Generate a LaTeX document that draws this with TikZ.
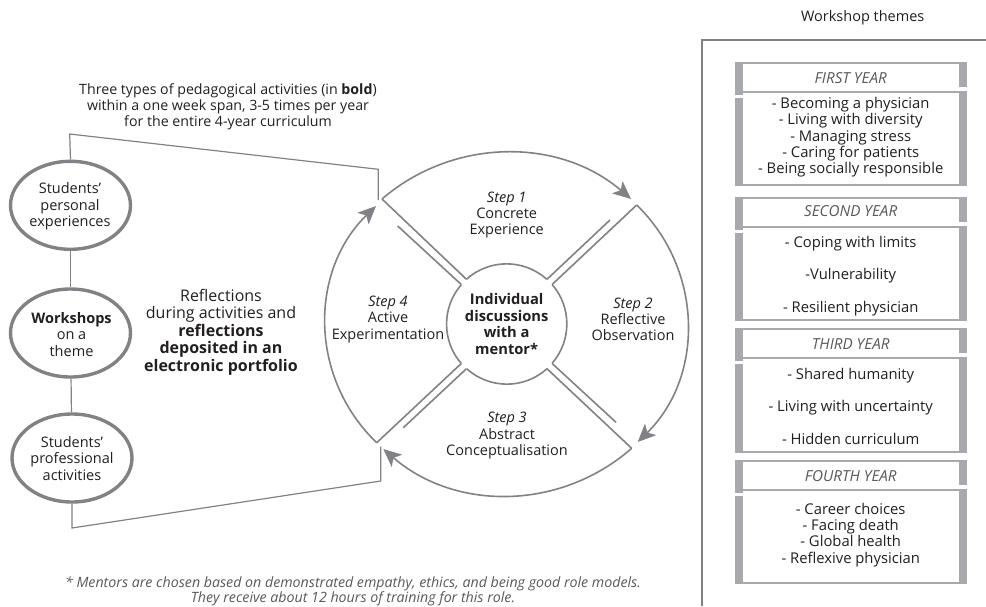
\documentclass[tikz,border=0pt]{standalone}
\usepackage{fontspec}
\setmainfont{Open Sans}
\usetikzlibrary{arrows.meta,shapes.geometric}
\definecolor{ln}{HTML}{808285}
\definecolor{bar}{HTML}{A7A9AC}
\definecolor{ink}{HTML}{231F20}
\definecolor{soft}{HTML}{58595B}
\tikzset{
  x=1pt,y=-1pt,
  txt/.style={text=ink,font=\fontsize{14.5}{16.3}\selectfont,align=center,inner sep=0pt},
  theme/.style={text=ink,font=\fontsize{14.8}{16.3}\selectfont,align=center,inner sep=0pt},
  wide/.style={text=ink,font=\fontsize{14.8}{32.5}\selectfont,align=center,inner sep=0pt},
  top/.style={text=ink,font=\fontsize{14.2}{16}\selectfont,align=center,inner sep=0pt},
  big/.style={text=ink,font=\fontsize{16}{17.6}\selectfont,align=center,inner sep=0pt},
  yrhead/.style={text=soft,font=\fontsize{15.2}{16}\selectfont\itshape,inner sep=0pt},
  foot/.style={text=soft,font=\fontsize{14.2}{13.5}\selectfont\itshape,align=center,inner sep=0pt},
  conn/.style={draw=ln,line width=1.2pt},
  ring/.style={draw=ln,line width=1.6pt},
  flow/.style={draw=ln,line width=1.6pt,-{Stealth[length=18pt,width=16pt,inset=4.5pt]}},
  oval/.style={ellipse,draw=ln,line width=3.4pt,minimum width=120pt,minimum height=88pt,inner sep=0pt},
}
\newcommand{\yearframe}[3]{%
  \fill[bar] (734.7,#1) rectangle (966.7,#3);
  \fill[white] (742.5,#1+2) rectangle (958.5,#2-2);
  \fill[white] (958.5,#2-6) rectangle (966.7,#2-2);
  \fill[white] (742.5,#2) rectangle (958.5,#3-2);
  \fill[white] (734.7,#2+2) rectangle (742.5,#2+5);
}
\begin{document}
\begin{tikzpicture}
\useasboundingbox (0,0) rectangle (986,606);
% left ovals
\node[oval] (e1) at (70.5,205.3) {};
\node[oval] (e2) at (70.5,333) {};
\node[oval] (e3) at (72,458) {};
\node[txt] at (70,206.5) {Students’\\personal\\experiences};
\node[txt] at (71.5,334.5) {\textbf{Workshops}\\on a\\theme};
\node[txt] at (72,458.5) {Students’\\professional\\activities};
\draw[conn] (e1) -- (e2);
\draw[conn] (e2) -- (e3);
% funnel
\coordinate (ft) at (378.3,200);
\coordinate (fb) at (380.7,446.7);
\draw[conn] (e1.north) -- (69.7,134) -- (378.3,169.3) -- (ft);
\draw[conn] (e3.south) -- (72,528) -- (380.7,481) -- (fb);
% centre
\node[circle,minimum size=120pt,inner sep=0pt,text=ink,align=center,font=\fontsize{14.7}{16.5}\selectfont\bfseries] (m) at (506.7,324) {Individual\\discussions\\with a\\mentor*};
\draw[ring] (m.132) arc[start angle=132,end angle=48,radius=60pt];
\draw[ring] (m.41) arc[start angle=41,end angle=-41,radius=60pt];
\draw[ring] (m.-48) arc[start angle=-48,end angle=-132,radius=60pt];
\draw[ring] (m.-139) arc[start angle=-139,end angle=-221,radius=60pt];
% quadrant corners
\coordinate (tl) at (382,199);
\coordinate (tr) at (636.7,205);
\coordinate (br) at (631.7,448.3);
\coordinate (bl) at (376.7,442.7);
\draw[ring] (tl) -- (m.132);
\draw[ring] (397.7,226) -- (m.139);
\draw[ring] (tr) -- (m.41);
\draw[ring] (610,220) -- (m.48);
\draw[ring] (br) -- (m.-48);
\draw[ring] (616,422.3) -- (m.-41);
\draw[ring] (bl) -- (m.-139);
\draw[ring] (403.3,427.7) -- (m.-132);
% arcs
\coordinate (ta) at (631,199);
\coordinate (ra) at (637.7,442);
\coordinate (ba) at (383.3,449);
\coordinate (la) at (376,206);
\draw[flow] (tl) .. controls (453.6,137.4) and (559.4,137.4) .. (ta);
\draw[flow] (tr) .. controls (703.7,270) and (704.2,377) .. (ra);
\draw[flow] (br) .. controls (560,511) and (455,511) .. (ba);
\draw[flow] (bl) .. controls (309,377.7) and (309,271) .. (la);
% step labels
\node[txt] at (506.7,215) {\textit{Step 1}\\Concrete\\Experience};
\node[txt] at (633,319.3) {\textit{Step 2}\\Reflective\\Observation};
\node[txt] at (507,435.5) {\textit{Step 3}\\Abstract\\Conceptualisation};
\node[txt] at (388,319.3) {\textit{Step 4}\\Active\\Experimentation};
% texts
\node[top] at (228,107) {Three types of pedagogical activities (in \textbf{bold})\\within a one week span, 3-5 times per year\\for the entire 4-year curriculum};
\node[big] at (221,332) {Reflections\\during activities and\\\textbf{reflections}\\\textbf{deposited in an}\\\textbf{electronic portfolio}};
\node[foot] at (353,591.5) {* Mentors are chosen based on demonstrated empathy, ethics, and being good role models.\\They receive about 12 hours of training for this role.};
% panel
\node[txt] at (862.7,18) {Workshop themes};
\coordinate (p1) at (702,606);
\coordinate (p2) at (702,40);
\coordinate (p3) at (986,40);
\draw[conn] (p1) -- (p2) -- (p3);
\yearframe{62.3}{92.7}{186}
\yearframe{197}{228}{321}
\yearframe{328.3}{359}{452.7}
\yearframe{460}{490.7}{584.3}
\node[yrhead] at (850.7,78) {FIRST YEAR};
\node[theme] at (850.7,137.3) {- Becoming a physician\\- Living with diversity\\- Managing stress\\- Caring for patients\\- Being socially responsible};
\node[yrhead] at (850.7,211.5) {SECOND YEAR};
\node[wide] at (850.7,276) {- Coping with limits\\-Vulnerability\\- Resilient physician};
\node[yrhead] at (850.7,344.3) {THIRD YEAR};
\node[wide] at (850.7,406) {- Shared humanity\\- Living with uncertainty\\- Hidden curriculum};
\node[yrhead] at (850.7,475.7) {FOURTH YEAR};
\node[theme] at (850.7,534.7) {- Career choices\\- Facing death\\- Global health\\- Reflexive physician};
\end{tikzpicture}
\end{document}
